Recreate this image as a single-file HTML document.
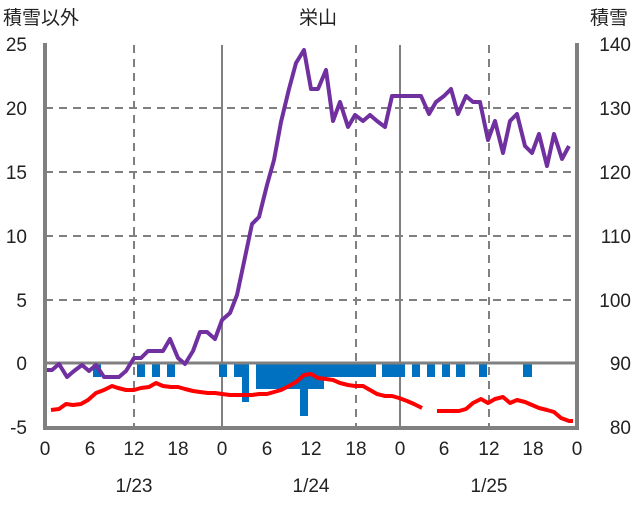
<!DOCTYPE html><html><head><meta charset="utf-8"><style>body{margin:0;background:#fff}</style></head><body>
<svg width="636" height="501" xmlns="http://www.w3.org/2000/svg" font-family="Liberation Sans, Noto Sans CJK JP, sans-serif" font-size="19" fill="#222">
<g stroke="#808080" stroke-width="2" stroke-dasharray="8,6">
<line x1="45" y1="108" x2="577" y2="108"/><line x1="45" y1="172" x2="577" y2="172"/><line x1="45" y1="236" x2="577" y2="236"/><line x1="45" y1="300" x2="577" y2="300"/>
<line x1="134" y1="45" x2="134" y2="427"/><line x1="356" y1="45" x2="356" y2="427"/><line x1="489" y1="45" x2="489" y2="427"/>
</g>
<g stroke="#808080" stroke-width="2"><line x1="222" y1="45" x2="222" y2="427"/><line x1="400" y1="45" x2="400" y2="427"/></g>
<g fill="#0070C0">
<rect x="93" y="364" width="8" height="13"/><rect x="137" y="364" width="8" height="13"/><rect x="152" y="364" width="8" height="13"/><rect x="167" y="364" width="8" height="13"/>
<rect x="219" y="364" width="8" height="13"/><rect x="234" y="364" width="8" height="13"/><rect x="242" y="364" width="7" height="38"/>
<rect x="256" y="364" width="44" height="25"/><rect x="300" y="364" width="8" height="52"/><rect x="308" y="364" width="16" height="25"/>
<rect x="324" y="364" width="52" height="13"/><rect x="382" y="364" width="23" height="13"/><rect x="412" y="364" width="8" height="13"/><rect x="427" y="364" width="8" height="13"/><rect x="442" y="364" width="8" height="13"/><rect x="456" y="364" width="9" height="13"/><rect x="479" y="364" width="8" height="13"/><rect x="523" y="364" width="9" height="13"/>
</g>
<line x1="45" y1="363" x2="577" y2="363" stroke="#808080" stroke-width="3"/>
<polyline fill="none" stroke="#7030A0" stroke-width="4" stroke-linejoin="round" points="45,370 52,370 59,364 67,377 74,371 82,365 89,371 96,365 104,377 111,377 119,377 126,371 134,358 141,358 148,351 156,351 163,351 170,339 178,358 185,364 193,351 200,332 207,332 215,339 222,320 230,313 237,295 244,262 252,224 259,217 267,185 274,160 281,122 289,89 296,63 304,50 311,89 318,89 326,70 333,121 340,102 348,127 355,115 363,121 370,115 377,121 385,127 392,96 399,96 407,96 414,96 421,96 429,114 436,102 444,96 451,89 458,114 466,96 473,102 480,102 488,140 495,121 503,153 510,121 517,114 525,146 532,153 539,134 547,166 554,134 562,159 569,146"/>
<g fill="none" stroke="#FF0000" stroke-width="4" stroke-linejoin="round">
<polyline points="51,410 59,409 66,404 73,405 81,404 88,400 96,393 104,390 112,386 118,388 126,390 134,390 141,388 149,387 156,383 163,386 171,387 178,387 185,389 193,391 200,392 208,393 215,393 222,394 230,395 237,395 245,395 252,395 259,394 267,394 274,392 281,390 289,386 296,382 304,375 311,374 318,378 326,379 333,380 340,383 348,385 355,386 363,386 370,390 377,394 385,396 392,396 399,398 407,401 414,404 422,408"/>
<polyline points="437,411 444,411 451,411 459,411 466,409 473,403 481,399 488,403 495,399 503,397 510,403 517,400 525,402 532,405 539,408 547,410 554,412 561,418 569,421 573,421"/>
</g>
<g stroke="#808080" stroke-width="4" fill="none"><polyline points="45,43 45,428 577,428 577,43"/></g>
<g text-anchor="end"><text x="27" y="51">25</text><text x="27" y="115">20</text><text x="27" y="179">15</text><text x="27" y="243">10</text><text x="27" y="307">5</text><text x="27" y="370">0</text><text x="27" y="434">-5</text></g>
<g text-anchor="end"><text x="631" y="51">140</text><text x="631" y="115">130</text><text x="631" y="179">120</text><text x="631" y="243">110</text><text x="631" y="307">100</text><text x="631" y="370">90</text><text x="631" y="434">80</text></g>
<g text-anchor="middle"><text x="45" y="455">0</text><text x="90" y="455">6</text><text x="134" y="455">12</text><text x="178" y="455">18</text><text x="222" y="455">0</text><text x="267" y="455">6</text><text x="311" y="455">12</text><text x="356" y="455">18</text><text x="400" y="455">0</text><text x="444" y="455">6</text><text x="489" y="455">12</text><text x="533" y="455">18</text><text x="577" y="455">0</text>
<text x="134" y="492">1/23</text><text x="311" y="492">1/24</text><text x="489" y="492">1/25</text>
<text x="318" y="24">栄山</text></g>
<text x="3" y="24">積雪以外</text><text x="590" y="24">積雪</text>
</svg></body></html>
